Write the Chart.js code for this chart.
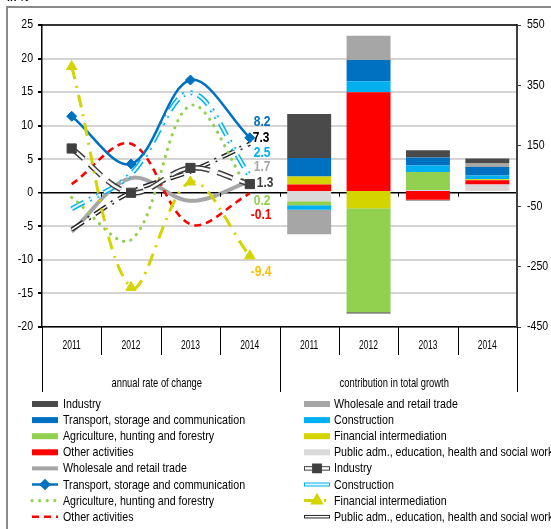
<!DOCTYPE html>
<html>
<head>
<meta charset="utf-8">
<title>Gross value added by activity</title>
<script src="https://cdn.jsdelivr.net/npm/chart.js@4.4.1/dist/chart.umd.min.js"></script>
<style>
  html, body { margin: 0; padding: 0; background: #fff; }
  #chart { display: block; }
</style>
</head>
<body>
<canvas id="chart" width="551" height="529"></canvas>
<script>
// categories
const years = ['2011', '2012', '2013', '2014'];
const groupLabels = ['annual rate of change', 'contribution in total growth'];
const unitLabel = 'in %';

// annual rate of change, % (left axis)
const rateIndustry = [6.6, 0.0, 3.7, 1.3];
const rateWholesale = [-5.8, 2.2, -1.2, 1.7];
const rateTransport = [11.4, 4.3, 16.8, 8.2];
const rateConstruction = [-2.4, 2.8, 14.9, 2.5];
const rateAgriculture = [-0.7, -7.0, 13.0, 0.2];
const rateFinancial = [18.8, -14.1, 1.6, -9.4];
const rateOther = [1.3, 7.3, -4.7, -0.1];
const ratePublic = [-5.5, 0.1, 3.2, 7.3];

// contribution in total growth (right axis)
const contribPublic = [-34, 0, 4, 22];
const contribOther = [22, 327, -29, 14];
const contribFinancial = [26, -57, 0, 3];
const contribAgriculture = [-13, -344, 59, 0];
const contribConstruction = [-15, 37, 22, 13];
const contribTransport = [62, 70, 26, 28];
const contribWholesale = [-81, 80, -4, 13];
const contribIndustry = [145, -4, 24, 15];

// no narrow font is installed, so text is drawn with Liberation Sans squeezed sideways
const fontFamily = "'Liberation Sans', Arial, sans-serif";
Chart.defaults.font.family = fontFamily;
Chart.defaults.color = '#000';

const fonts = {
  tick: { font: '12px ' + fontFamily, sx: 0.88 },
  year: { font: '13.5px ' + fontFamily, sx: 0.63 },
  group: { font: '13px ' + fontFamily, sx: 0.72 },
  value: { font: 'bold 15px ' + fontFamily, sx: 0.8 },
  legend: { font: '13px ' + fontFamily, sx: 0.82 },
  unit: { font: 'bold 13px ' + fontFamily, sx: 0.82 }
};

const barColors = {
  industry: '#4a4a4a',
  wholesale: '#a6a6a6',
  transport: '#0070c0',
  construction: '#00b0f0',
  agriculture: '#92d050',
  financial: '#d4d400',
  other: '#ff0000',
  public: '#d9d9d9'
};

const lineStyles = {
  financial: { color: '#d4d400', width: 3, dash: [13, 7, 2, 7], point: 'triangle', radius: 6 },
  transport: { color: '#0070c0', width: 2.5, point: 'rectRot', radius: 5 },
  industry: { color: '#404040', width: 5.5, dash: [16, 8], inner: '#fff', innerWidth: 2.5, point: 'rect', radius: 6.5 },
  other: { color: '#ff0000', width: 2.6, dash: [7, 5] },
  agriculture: { color: '#92d050', width: 3.2, dash: [0.1, 7.5], cap: 'round' },
  construction: { color: '#00b0f0', width: 5, dash: [14, 6, 2, 6, 2, 6], inner: '#e2f6fe', innerWidth: 2 },
  public: { color: '#262626', width: 4.5, dash: [14, 6, 2, 6], inner: '#fff', innerWidth: 1.5 },
  wholesale: { color: '#a6a6a6', width: 4 }
};

// value labels at the 2014 end of each line
const endLabels = {
  transport: { color: '#0070c0', dx: 4, dy: -16 },
  public: { color: '#000', dx: 3, dy: -6 },
  construction: { color: '#00b0f0', dx: 4, dy: -23 },
  wholesale: { color: '#a6a6a6', dx: 4, dy: -15 },
  industry: { color: '#404040', dx: 7, dy: -1 },
  agriculture: { color: '#92d050', dx: 4, dy: 9 },
  other: { color: '#ff0000', dx: 1, dy: 21 },
  financial: { color: '#ffc000', dx: 1, dy: 16 }
};

const rates = {
  industry: rateIndustry, wholesale: rateWholesale, transport: rateTransport,
  construction: rateConstruction, agriculture: rateAgriculture, financial: rateFinancial,
  other: rateOther, public: ratePublic
};

const linesPad = arr => arr.concat([null, null, null, null]);
const barsPad = arr => [null, null, null, null].concat(arr);

function barSet(label, data, color) {
  return {
    type: 'bar', label: label, data: barsPad(data), yAxisID: 'y1', order: 100,
    backgroundColor: color, borderWidth: 0, barPercentage: 0.74, categoryPercentage: 1
  };
}

function lineSets(key, k) {
  const s = lineStyles[key];
  const base = {
    type: 'line', data: linesPad(rates[key]), yAxisID: 'y', fill: false,
    tension: 0.35, borderCapStyle: s.cap || 'butt', spanGaps: false
  };
  const out = [];
  out.push(Object.assign({}, base, {
    label: key, key: key, order: 10 + k * 3 + 2,
    borderColor: s.color, borderWidth: s.width, borderDash: s.dash || [],
    pointRadius: s.point && !s.inner ? s.radius : 0, pointStyle: s.point || 'circle',
    pointBackgroundColor: s.color, pointBorderColor: s.color, pointBorderWidth: 1
  }));
  if (s.inner) {
    out.push(Object.assign({}, base, {
      label: key + ' inner', order: 10 + k * 3 + 1,
      borderColor: s.inner, borderWidth: s.innerWidth, borderDash: s.dash || [], pointRadius: 0
    }));
    if (s.point) {
      out.push(Object.assign({}, base, {
        label: key + ' markers', order: 10 + k * 3, showLine: false,
        pointRadius: s.radius, pointStyle: s.point,
        pointBackgroundColor: s.color, pointBorderColor: s.color, pointBorderWidth: 1
      }));
    }
  }
  return out;
}

let datasets = [
  barSet('Public adm., education, health and social work', contribPublic, barColors.public),
  barSet('Other activities', contribOther, barColors.other),
  barSet('Financial intermediation', contribFinancial, barColors.financial),
  barSet('Agriculture, hunting and forestry', contribAgriculture, barColors.agriculture),
  barSet('Construction', contribConstruction, barColors.construction),
  barSet('Transport, storage and communication', contribTransport, barColors.transport),
  barSet('Wholesale and retail trade', contribWholesale, barColors.wholesale),
  barSet('Industry', contribIndustry, barColors.industry)
];
Object.keys(lineStyles).forEach((key, k) => { datasets = datasets.concat(lineSets(key, k)); });

// legend rows: [left column, right column]
const legendRows = [
  [{ t: 'Industry', box: 'industry' }, { t: 'Wholesale and retail trade', box: 'wholesale' }],
  [{ t: 'Transport, storage and communication', box: 'transport' }, { t: 'Construction', box: 'construction' }],
  [{ t: 'Agriculture, hunting and forestry', box: 'agriculture' }, { t: 'Financial intermediation', box: 'financial' }],
  [{ t: 'Other activities', box: 'other' }, { t: 'Public adm., education, health and social work', box: 'public' }],
  [{ t: 'Wholesale and retail trade', line: 'wholesale' }, { t: 'Industry', line: 'industry' }],
  [{ t: 'Transport, storage and communication', line: 'transport' }, { t: 'Construction', line: 'construction' }],
  [{ t: 'Agriculture, hunting and forestry', line: 'agriculture' }, { t: 'Financial intermediation', line: 'financial' }],
  [{ t: 'Other activities', line: 'other' }, { t: 'Public adm., education, health and social work', line: 'public' }]
];

function hline(ctx, x0, x1, y) {
  ctx.beginPath(); ctx.moveTo(x0, y); ctx.lineTo(x1, y); ctx.stroke();
}

// narrow text: Liberation Sans squeezed horizontally
function text(ctx, str, x, y, align, f, color) {
  ctx.save();
  ctx.font = f.font;
  ctx.fillStyle = color || '#000';
  ctx.textAlign = align;
  ctx.textBaseline = 'middle';
  ctx.translate(x, y);
  ctx.scale(f.sx, 1);
  ctx.fillText(str, 0, 0);
  ctx.restore();
}

function drawSwatch(ctx, item, x0, x1, y) {
  ctx.save();
  if (item.box) {
    ctx.fillStyle = barColors[item.box];
    ctx.fillRect(x0, y - 3, x1 - x0, 6);
  } else {
    const s = lineStyles[item.line];
    ctx.lineCap = s.cap || 'butt';
    ctx.setLineDash(s.inner ? [] : (s.dash || []));
    ctx.strokeStyle = s.color; ctx.lineWidth = s.inner ? s.width - 1 : s.width;
    hline(ctx, x0, x1, y);
    if (s.inner) {
      ctx.strokeStyle = s.inner; ctx.lineWidth = s.innerWidth;
      hline(ctx, x0 + 1, x1 - 1, y);
    }
    if (s.point) {
      ctx.setLineDash([]);
      ctx.fillStyle = s.color; ctx.strokeStyle = s.color;
      Chart.helpers.drawPoint(ctx, { pointStyle: s.point, rotation: 0, radius: s.radius * 0.8, borderWidth: 1 }, (x0 + x1) / 2, y);
    }
  }
  ctx.restore();
}

const decor = {
  id: 'decor',
  beforeDraw(chart) {
    const ctx = chart.ctx;
    ctx.save();
    ctx.fillStyle = '#fff';
    ctx.fillRect(0, 0, chart.width, chart.height);
    ctx.strokeStyle = '#8a8a8a'; ctx.lineWidth = 2;
    ctx.strokeRect(7, 7, chart.width + 40, chart.height + 40);
    ctx.restore();
    text(ctx, unitLabel, 7, -3, 'left', fonts.unit);
  },
  afterDraw(chart) {
    const ctx = chart.ctx;
    const a = chart.chartArea;
    const w = (a.right - a.left) / 8;
    const sx = chart.scales.x, sy = chart.scales.y, sy1 = chart.scales.y1;
    const y0 = sy.getPixelForValue(0);
    ctx.save();
    // top frame of the plot
    ctx.strokeStyle = '#000'; ctx.lineWidth = 1.5;
    hline(ctx, a.left, a.right, a.top);
    // category separators and group separators
    ctx.lineWidth = 1;
    for (let i = 0; i <= 8; i++) {
      const x = Math.round(a.left + i * w) + 0.5;
      const len = (i % 4 === 0) ? 65 : 28;
      ctx.beginPath(); ctx.moveTo(x, a.bottom); ctx.lineTo(x, a.bottom + len); ctx.stroke();
      if (i > 0 && i < 8) {
        ctx.beginPath(); ctx.moveTo(x, y0); ctx.lineTo(x, y0 + 4); ctx.stroke();
      }
    }
    ctx.restore();

    // axis tick labels
    sy.ticks.forEach(t => text(ctx, String(t.value), a.left - 9, sy.getPixelForValue(t.value), 'right', fonts.tick));
    sy1.ticks.forEach(t => text(ctx, String(t.value), a.right + 10, sy1.getPixelForValue(t.value), 'left', fonts.tick));
    chart.data.labels.forEach((lab, i) => text(ctx, lab, sx.getPixelForTick(i), a.bottom + 18, 'center', fonts.year));

    // group labels
    groupLabels.forEach((g, i) => text(ctx, g, a.left + (i * 4 + 2) * w - 4, a.bottom + 56, 'center', fonts.group));

    // end-of-line value labels
    chart.data.datasets.forEach((ds, i) => {
      if (!ds.key || !endLabels[ds.key]) return;
      const pt = chart.getDatasetMeta(i).data[3];
      const lab = endLabels[ds.key];
      text(ctx, rates[ds.key][3].toFixed(1), pt.x + lab.dx, pt.y + lab.dy, 'left', fonts.value, lab.color);
    });

    // legend
    legendRows.forEach((row, r) => {
      const y = 404 + r * 16.1;
      drawSwatch(ctx, row[0], 32, 58, y);
      drawSwatch(ctx, row[1], 304, 330, y);
      text(ctx, row[0].t, 63, y + 0.5, 'left', fonts.legend);
      text(ctx, row[1].t, 334, y + 0.5, 'left', fonts.legend);
    });
  }
};

new Chart(document.getElementById('chart'), {
  data: { labels: years.concat(years), datasets: datasets },
  options: {
    responsive: false,
    animation: false,
    devicePixelRatio: 1,
    layout: { padding: { top: 25, left: 0, right: 0, bottom: 0 } },
    plugins: { legend: { display: false }, tooltip: { enabled: false } },
    scales: {
      x: {
        stacked: true,
        grid: { display: true, drawOnChartArea: false, drawTicks: false },
        border: { display: true, color: '#000', width: 1.5 },
        ticks: { display: false, autoSkip: false },
        afterFit: s => { s.height = 202; }
      },
      y: {
        position: 'left', min: -20, max: 25,
        ticks: { stepSize: 5, display: false },
        grid: {
          color: c => (c.tick && c.tick.value === 0) ? '#000' : '#d4d4d4',
          lineWidth: c => (c.tick && c.tick.value === 0) ? 1.5 : 2,
          tickColor: '#000', tickLength: 4
        },
        border: { display: true, color: '#000', width: 1.5 },
        afterFit: s => { s.width = 42; }
      },
      y1: {
        position: 'right', stacked: true, min: -450, max: 550,
        ticks: { stepSize: 200, display: false },
        grid: { drawOnChartArea: false, tickColor: '#404040', tickLength: 4 },
        border: { display: true, color: '#404040', width: 2 },
        afterFit: s => { s.width = 34; }
      }
    }
  },
  plugins: [decor]
});
</script>
</body>
</html>
